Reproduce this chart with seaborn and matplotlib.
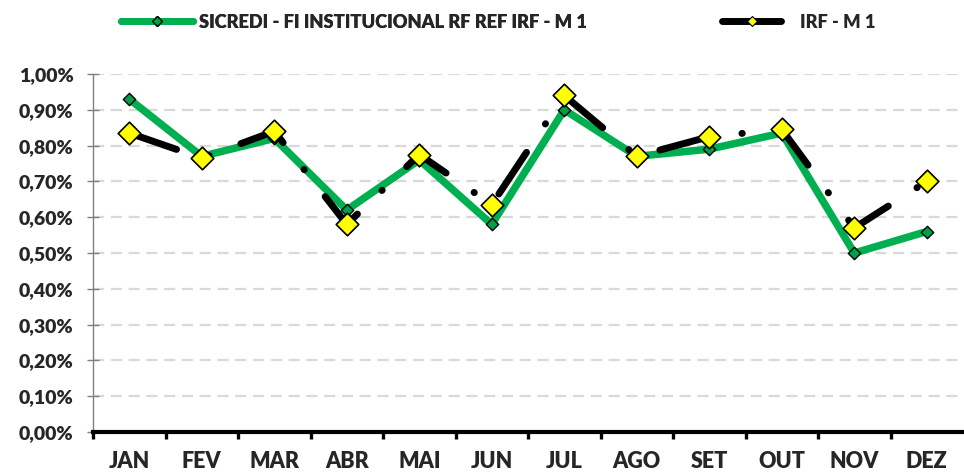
import matplotlib
matplotlib.use("Agg")
import matplotlib.pyplot as plt
import seaborn as sns
import pandas as pd
from matplotlib.lines import Line2D

# ---- data ----
months = ["JAN", "FEV", "MAR", "ABR", "MAI", "JUN", "JUL", "AGO", "SET", "OUT", "NOV", "DEZ"]
sicredi = [0.93, 0.77, 0.82, 0.62, 0.76, 0.58, 0.90, 0.77, 0.79, 0.835, 0.50, 0.56]
irf = [0.835, 0.765, 0.84, 0.58, 0.775, 0.635, 0.94, 0.77, 0.825, 0.845, 0.57, 0.70]
yticks = [0.0, 0.1, 0.2, 0.3, 0.4, 0.5, 0.6, 0.7, 0.8, 0.9, 1.0]
name_a = "SICREDI - FI INSTITUCIONAL RF REF IRF - M 1"
name_b = "IRF - M 1"

sns.set_style("white")
plt.rcParams["font.family"] = ["Lato", "DejaVu Sans"]
W = "heavy"

pos = list(range(len(months)))
df = pd.DataFrame({"pos": pos, "sicredi": sicredi, "irf": irf})

GREEN = "#00B050"
GREEN_M = "#00A04A"

fig = plt.figure(figsize=(9.64, 4.74), dpi=100)
ax = fig.add_axes([0.0965, 0.0886, 0.9025, 0.7553])

# gridlines
for v in yticks[1:]:
    ax.axhline(v, color="#D9D9D9", lw=1.6, ls=(0, (5, 3)), zorder=0)

# lines
sns.lineplot(data=df, x="pos", y="sicredi", ax=ax, color=GREEN, lw=5.4,
             sort=False, zorder=2, solid_capstyle="round")
dash = (0, (7.2, 4.9, 0.05, 4.9))
sns.lineplot(data=df, x="pos", y="irf", ax=ax, color="black", lw=5.0,
             sort=False, zorder=3, linestyle=dash, dash_capstyle="round")
# markers
sns.scatterplot(data=df, x="pos", y="sicredi", ax=ax, marker="D", s=6.3**2,
                color=GREEN_M, edgecolor="black", linewidth=1.0, zorder=4)
sns.scatterplot(data=df, x="pos", y="irf", ax=ax, marker="D", s=11.5**2,
                color="#FFFF00", edgecolor="black", linewidth=1.2, zorder=5)

ax.set_xlim(-0.5, 11.5)
ax.set_ylim(0, 1.0)
ax.set_xlabel("")
ax.set_ylabel("")

# x axis: boundary ticks + centered labels
ax.set_xticks([p - 0.5 for p in pos])
ax.set_xticklabels([])
ax.set_xticks(pos, minor=True)
ax.set_xticklabels(months, minor=True, fontsize=15.5, fontweight=W)
ax.tick_params(axis="x", which="major", direction="out", length=5, width=2.4,
               color="black", bottom=True)
ax.tick_params(axis="x", which="minor", length=0, pad=14, bottom=True)

ax.set_yticks(yticks)
ax.set_yticklabels([f"{v:.2f}%".replace(".", ",") for v in yticks],
                   fontsize=14, fontweight=W)
ax.tick_params(axis="y", direction="inout", length=8, width=1.0,
               color="#808080", pad=10, left=True)

for s in ["top", "right"]:
    ax.spines[s].set_visible(False)
ax.spines["left"].set_color("#808080")
ax.spines["left"].set_linewidth(1.0)
ax.spines["bottom"].set_color("black")
ax.spines["bottom"].set_linewidth(3.0)
ax.spines["bottom"].set_zorder(6)

h_a = Line2D([], [], color=GREEN, lw=5, marker="D", ms=5, mfc=GREEN_M,
             mec="black", mew=1.0, solid_capstyle="round")
h_b = Line2D([], [], color="black", lw=5, marker="D", ms=5, mfc="#FFFF00",
             mec="black", mew=0.8, solid_capstyle="round")
leg_kw = dict(loc="center left", frameon=False, borderpad=0, borderaxespad=0,
              prop={"weight": W, "size": 13.15})
leg1 = fig.legend([h_a], [name_a], bbox_to_anchor=(121 / 964, 0.953),
                  handlelength=3.95, handletextpad=0.3, **leg_kw)
fig.add_artist(leg1)
fig.legend([h_b], [name_b], bbox_to_anchor=(722 / 964, 0.953),
           handlelength=3.25, handletextpad=1.0, **leg_kw)

fig.savefig("out.png", dpi=100)
